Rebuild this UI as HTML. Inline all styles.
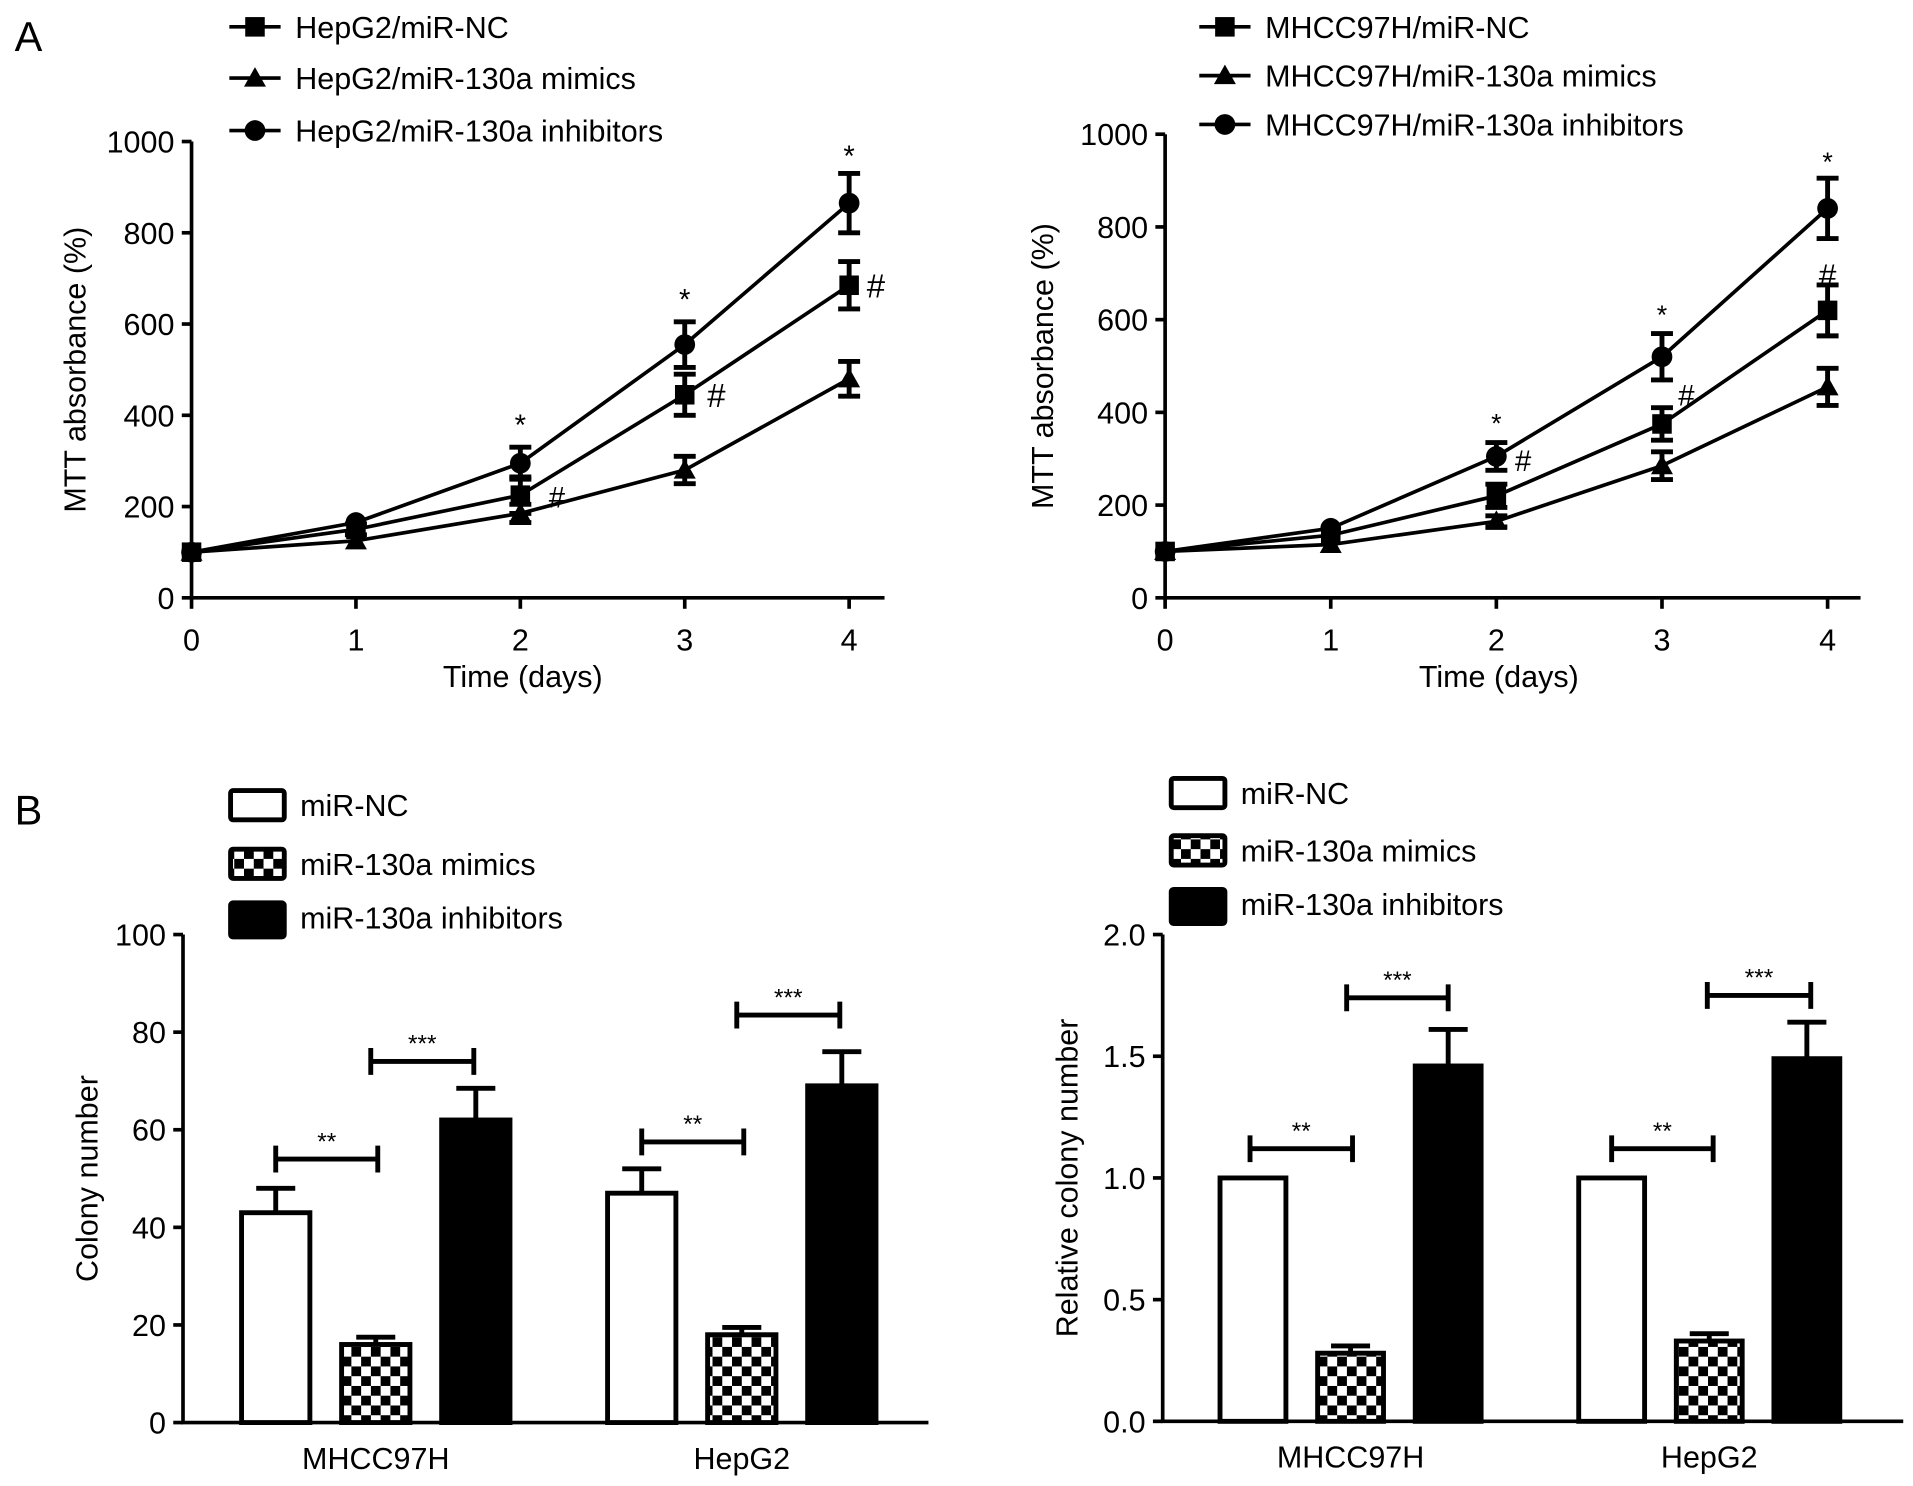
<!DOCTYPE html>
<html><head><meta charset="utf-8"><style>
html,body{margin:0;padding:0;background:#fff;}
svg{display:block;font-family:"Liberation Sans",Arial,sans-serif;}
</style></head><body>
<svg id="fig" width="1913" height="1486" viewBox="0 0 1568 1218" preserveAspectRatio="none">
<defs>
<pattern id="chk" width="16" height="16" patternUnits="userSpaceOnUse">
<rect width="16" height="16" fill="#fff"/><rect width="8" height="8" fill="#000"/><rect x="8" y="8" width="8" height="8" fill="#000"/>
</pattern>
</defs>
<text x="12" y="42" font-size="34">A</text>
<text x="12" y="676" font-size="34">B</text>
</svg>
<script>
const days=[0,1,2,3,4];
const yTicksA=[0,200,400,600,800,1000];
const hepNC=[100,150,225,445,685];
const hepNCerr=[8,12,40,45,52];
const hepMim=[100,125,185,280,480];
const hepMimErr=[8,10,20,30,38];
const hepInh=[100,165,295,555,865];
const hepInhErr=[8,10,35,50,65];
const mhNC=[100,135,220,375,620];
const mhNCerr=[8,10,25,35,55];
const mhMim=[100,115,165,285,455];
const mhMimErr=[8,8,12,30,40];
const mhInh=[100,150,305,520,840];
const mhInhErr=[8,10,30,50,65];
const groups=["MHCC97H","HepG2"];
const colNC=[43,47];
const colNCerr=[5,5];
const colMim=[16,18];
const colMimErr=[1.5,1.5];
const colInh=[62,69];
const colInhErr=[6.5,7];
const yTicksB1=[0,20,40,60,80,100];
const relNC=[1.0,1.0];
const relNCerr=[0,0];
const relMim=[0.28,0.33];
const relMimErr=[0.03,0.03];
const relInh=[1.46,1.49];
const relInhErr=[0.15,0.15];
const yTicksB2=[0,0.5,1.0,1.5,2.0];
const yTickLabelsB2=["0.0","0.5","1.0","1.5","2.0"];

const svg=document.getElementById('fig');
const NS='http://www.w3.org/2000/svg';
function el(tag,attrs,parent){const e=document.createElementNS(NS,tag);for(const k in attrs)e.setAttribute(k,attrs[k]);(parent||svg).appendChild(e);return e;}
function txt(x,y,s,size,anchor,parent,rot){const t=el('text',{x:x,y:y,'font-size':size,'text-anchor':anchor||'start'},parent);if(rot)t.setAttribute('transform','rotate(-90 '+x+' '+y+')');t.textContent=s;return t;}

function marker(g,type,x,y){
  if(type==='sq') return el('rect',{x:x-8,y:y-8,width:16,height:16,fill:'#000'},g);
  if(type==='tri') return el('polygon',{points:(x)+','+(y-9)+' '+(x+9)+','+(y+7)+' '+(x-9)+','+(y+7),fill:'#000'},g);
  return el('circle',{cx:x,cy:y,r:8.5,fill:'#000'},g);
}

function lineChart(cfg){
  const g=el('g',{});
  
  
  const X=d=>cfg.x0+(cfg.x1-cfg.x0)*d/4;
  const Y=v=>cfg.y0-(cfg.y0-cfg.y1)*v/1000;
  const ax=el('path',{d:'M'+cfg.ax+','+Y(1000)+' V'+cfg.y0+' H'+cfg.xend,stroke:'#000','stroke-width':3,fill:'none'},g);
  
  
  yTicksA.forEach(v=>{el('line',{x1:cfg.ax-8,x2:cfg.ax,y1:Y(v),y2:Y(v),stroke:'#000','stroke-width':3},g);
    const t=txt(cfg.ax-14,Y(v)+9,String(v),25,'end',g);});
  days.forEach(d=>{el('line',{x1:X(d),x2:X(d),y1:cfg.y0,y2:cfg.y0+9,stroke:'#000','stroke-width':3},g);
    const t=txt(X(d),cfg.y0+43,String(d),25,'middle',g);});
  const xt=txt((cfg.x0+cfg.x1)/2+2,cfg.y0+73,'Time (days)',25,'middle',g);
  
  
  const yt=txt(cfg.ylx,(cfg.y0+Y(1000))/2,'MTT absorbance (%)',25,'middle',g,true);
  
  
  cfg.series.forEach(s=>{
    const sg=el('g',{},g);
    
    
    el('polyline',{points:s.vals.map((v,i)=>X(days[i])+','+Y(v)).join(' '),fill:'none',stroke:'#000','stroke-width':3},sg);
    s.vals.forEach((v,i)=>{
      const e=s.err[i];const x=X(days[i]);
      if(e>10){el('path',{d:'M'+(x-9)+','+Y(v+e)+' H'+(x+9)+' M'+x+','+Y(v+e)+' V'+Y(v-e)+' M'+(x-9)+','+Y(v-e)+' H'+(x+9),stroke:'#000','stroke-width':4,fill:'none'},sg);}
      const m=marker(sg,s.m,x,Y(v));
      
      
    });
  });
  cfg.stars.forEach(a=>{const t=txt(X(a[0])+(a[2]||0),Y(a[1])+(a[3]||0),a[4],a[5],'middle',g);});
  cfg.legend.forEach((l,i)=>{
    const lg=el('g',{},g);
    
    
    const y=cfg.ly[i];
    el('line',{x1:cfg.lx,x2:cfg.lx+42,y1:y,y2:y,stroke:'#000','stroke-width':3},lg);
    marker(lg,l[0],cfg.lx+21,y);
    txt(cfg.lx+54,y+9,l[1],25,'start',lg);
  });
}

lineChart({name:'mtt-hepg2-chart',x0:157,x1:696,xend:725,ax:157,y0:490,y1:116,ylx:70,lx:188,ly:[22,64,107],
  series:[{key:'nc',vals:hepNC,err:hepNCerr,m:'sq'},{key:'mimics',vals:hepMim,err:hepMimErr,m:'tri'},{key:'inhibitors',vals:hepInh,err:hepInhErr,m:'circ'}],
  legend:[['sq','HepG2/miR-NC'],['tri','HepG2/miR-130a mimics'],['circ','HepG2/miR-130a inhibitors']],
  stars:[[2,hepInh[2]+hepInhErr[2],0,-10,'*',24],[3,hepInh[3]+hepInhErr[3],0,-10,'*',24],[4,hepInh[4]+hepInhErr[4],0,-6,'*',24],
         [2,hepNC[2],30,10,'#',24],[3,hepNC[3],26,10,'#',27],[4,hepNC[4],22,10,'#',27]]});
lineChart({name:'mtt-mhcc97h-chart',x0:955,x1:1498,xend:1525,ax:955,y0:490,y1:110,ylx:863,lx:983,ly:[22,62,102],
  series:[{key:'nc',vals:mhNC,err:mhNCerr,m:'sq'},{key:'mimics',vals:mhMim,err:mhMimErr,m:'tri'},{key:'inhibitors',vals:mhInh,err:mhInhErr,m:'circ'}],
  legend:[['sq','MHCC97H/miR-NC'],['tri','MHCC97H/miR-130a mimics'],['circ','MHCC97H/miR-130a inhibitors']],
  stars:[[2,mhInh[2]+mhInhErr[2],0,-8,'*',22],[3,mhInh[3]+mhInhErr[3],0,-8,'*',22],[4,mhInh[4]+mhInhErr[4],0,-6,'*',22],
         [2,mhInh[2],22,12,'#',24],[3,mhNC[3],20,-15,'#',24],[4,mhNC[4],0,-20,'#',26]]});

function barChart(cfg){
  const g=el('g',{});
  
  
  const Y=v=>cfg.y0-(cfg.y0-cfg.y1)*v/cfg.max;
  const ax=el('path',{d:'M'+cfg.ax+','+Y(cfg.max)+' V'+cfg.y0+' H'+cfg.xend,stroke:'#000','stroke-width':3,fill:'none'},g);
  
  
  cfg.ticks.forEach((v,i)=>{el('line',{x1:cfg.ax-8,x2:cfg.ax,y1:Y(v),y2:Y(v),stroke:'#000','stroke-width':3},g);
    const t=txt(cfg.ax-14,Y(v)+9,cfg.tickLabels[i],25,'end',g);});
  const yt=txt(cfg.ylx,(cfg.y0+Y(cfg.max))/2,cfg.ytitle,25,'middle',g,true);
  
  
  const fills=['#fff','url(#chk)','#000'];
  const keys=['nc','mimics','inhibitors'];
  groups.forEach((gr,gi)=>{
    const base=cfg.gx[gi];
    const t=txt(base+cfg.step+cfg.w/2,cfg.y0+38,gr,25,'middle',g);
    
    
    cfg.vals.forEach((arr,si)=>{
      const x=base+si*cfg.step, v=arr[gi], e=cfg.errs[si][gi];
      if(e>0){el('path',{d:'M'+(x+cfg.w/2)+','+Y(v)+' V'+Y(v+e)+' M'+(x+cfg.w/2-16)+','+Y(v+e)+' H'+(x+cfg.w/2+16),stroke:'#000','stroke-width':4,fill:'none'},g);}
      const r=el('rect',{x:x,y:Y(v),width:cfg.w,height:cfg.y0-Y(v),fill:fills[si],stroke:'#000','stroke-width':4},g);
      
      
    });
    cfg.brackets[gi].forEach(b=>{
      const bx1=base+b[0]*cfg.step+cfg.w/2, bx2=base+b[1]*cfg.step+cfg.w/2, by=Y(b[2]);
      const bg=el('g',{},g);
      
      
      el('path',{d:'M'+bx1+','+(by-11)+' V'+(by+11)+' M'+bx1+','+by+' H'+bx2+' M'+bx2+','+(by-11)+' V'+(by+11),stroke:'#000','stroke-width':4,fill:'none'},bg);
      txt((bx1+bx2)/2,by-8,b[3],20,'middle',bg);
    });
  });
  cfg.legend.forEach((l,i)=>{
    const lg=el('g',{},g);
    
    
    const y=cfg.ly[i];
    el('rect',{x:cfg.lx,y:y-12,width:44,height:i==2?28:24,fill:fills[i],stroke:'#000','stroke-width':4,rx:2},lg);
    txt(cfg.lx+57,y+9,l,25,'start',lg);
  });
}
const legB=['miR-NC','miR-130a mimics','miR-130a inhibitors'];
barChart({name:'colony-number-chart',ax:150,xend:761,y0:1166,y1:766,max:100,ticks:yTicksB1,tickLabels:yTicksB1.map(String),ylx:80,ytitle:'Colony number',
  gx:[198,498],step:82,w:56,vals:[colNC,colMim,colInh],errs:[colNCerr,colMimErr,colInhErr],
  brackets:[[[0,1.02,54,'**'],[0.95,1.98,74,'***']],[[0,1.02,57.5,'**'],[0.95,1.98,83.5,'***']]],
  legend:legB,lx:189,ly:[660,708,752]});
barChart({name:'relative-colony-chart',ax:953,xend:1560,y0:1165,y1:766,max:2.0,ticks:yTicksB2,tickLabels:yTickLabelsB2,ylx:883,ytitle:'Relative colony number',
  gx:[1000,1294],step:80,w:54,vals:[relNC,relMim,relInh],errs:[relNCerr,relMimErr,relInhErr],
  brackets:[[[-0.03,1.02,1.12,'**'],[0.96,2.0,1.74,'***']],[[0,1.04,1.12,'**'],[0.98,2.04,1.75,'***']]],
  legend:legB,lx:960,ly:[650,697,741]});
</script>
</body></html>
